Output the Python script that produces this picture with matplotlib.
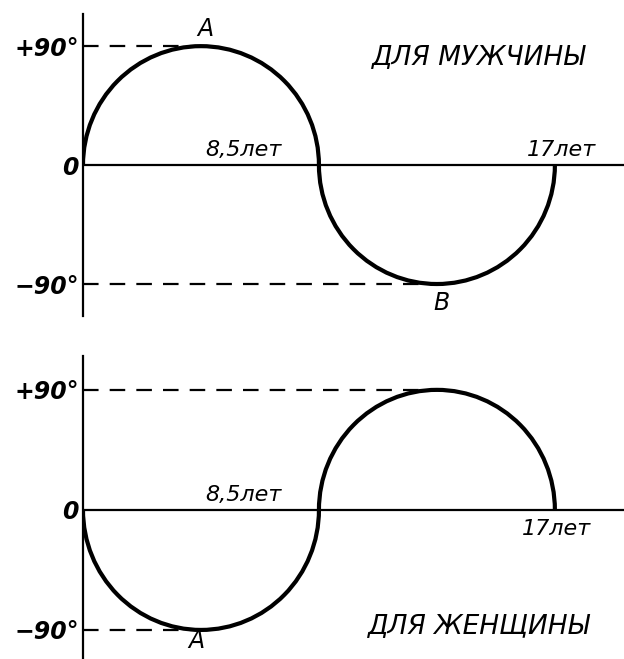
import matplotlib
matplotlib.use('Agg')
import matplotlib.pyplot as plt
from matplotlib.patches import Arc

# ages where the curve crosses zero, and the sign of each half-wave
ages = [0, 8.5, 17]
men_signs = [1, -1]
women_signs = [-1, 1]
amplitude = 90
ytick_vals = [90, 0, -90]
ytick_labels = ['+90°', '0', '−90°']

fig = plt.figure(figsize=(6.24, 6.59), dpi=100)
ax1 = fig.add_axes([0.133, 0.5205, 0.867, 0.458])
ax2 = fig.add_axes([0.133, 0.0, 0.867, 0.46])

txt = dict(color='black', fontstyle='italic', family='DejaVu Sans')


def draw_panel(ax, signs, ylo, yhi):
    ax.set_xlim(0, 19.49)
    ax.set_ylim(ylo, yhi)
    for s in ['top', 'right', 'bottom']:
        ax.spines[s].set_visible(False)
    ax.spines['left'].set_linewidth(1.6)
    ax.axhline(0, color='black', lw=1.6)
    ax.set_xticks([])
    ax.set_yticks(ytick_vals)
    ax.set_yticklabels(ytick_labels, fontsize=17, fontstyle='italic',
                       fontweight='bold')
    ax.tick_params(axis='y', length=0, pad=3)
    for i, sg in enumerate(signs):
        c = (ages[i] + ages[i + 1]) / 2
        w = ages[i + 1] - ages[i]
        t1, t2 = (0, 180) if sg > 0 else (180, 360)
        ax.add_patch(Arc((c, 0), w, 2 * amplitude, theta1=t1, theta2=t2,
                         color='black', lw=3))
        ax.plot([0, c], [sg * amplitude] * 2, color='black', lw=1.6,
                dashes=(7, 5))


draw_panel(ax1, men_signs, -114.2, 114.2)
draw_panel(ax2, women_signs, -111.8, 115.5)

ax1.text(4.4, 103, 'A', fontsize=17, ha='center', va='center', **txt)
ax1.text(4.4, 4, '8,5лет', fontsize=16, ha='left', va='bottom', **txt)
ax1.text(16.0, 4, '17лет', fontsize=16, ha='left', va='bottom', **txt)
ax1.text(12.9, -104, 'B', fontsize=17, ha='center', va='center', **txt)
ax1.text(14.27, 82, 'ДЛЯ МУЖЧИНЫ', fontsize=19, ha='center', va='center', **txt)

ax2.text(4.4, 4, '8,5лет', fontsize=16, ha='left', va='bottom', **txt)
ax2.text(15.8, -7, '17лет', fontsize=16, ha='left', va='top', **txt)
ax2.text(4.1, -98, 'A', fontsize=17, ha='center', va='center', **txt)
ax2.text(14.27, -87, 'ДЛЯ ЖЕНЩИНЫ', fontsize=19, ha='center', va='center', **txt)

fig.savefig('out.png', dpi=100)
